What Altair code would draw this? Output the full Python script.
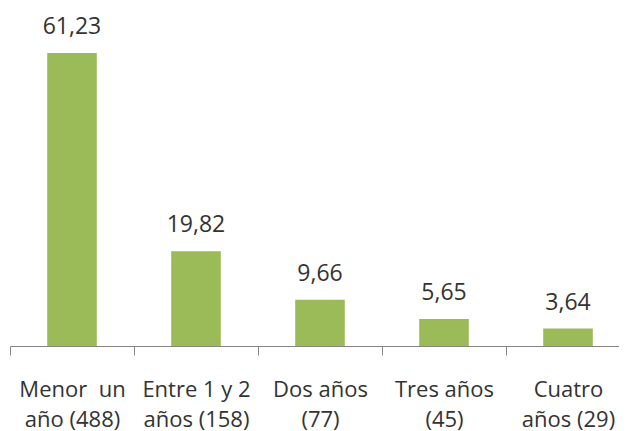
import altair as alt
import pandas as pd

categories = ["Menor\u00a0\u00a0un|año (488)", "Entre 1 y 2|años (158)", "Dos años|(77)", "Tres años|(45)", "Cuatro|años (29)"]
values = [61.23, 19.82, 9.66, 5.65, 3.64]
value_labels = ["61,23", "19,82", "9,66", "5,65", "3,64"]

df = pd.DataFrame({"cat": categories, "val": values, "lab": value_labels})

FONT = "Open Sans"
TXT = "#333333"

x = alt.X("cat:N", sort=categories, title=None,
          scale=alt.Scale(paddingInner=0, paddingOuter=0),
          axis=alt.Axis(labelExpr="split(datum.label, '|')", labelAngle=0,
                        labelFont=FONT, labelFontSize=22, labelColor=TXT,
                        labelLineHeight=30, labelPadding=41, labelBaseline="alphabetic",
                        tickBand="extent", tickSize=9, tickColor="#868686",
                        domainColor="#868686", labelOverlap=False, labelFlush=False))
y = alt.Y("val:Q", title=None, scale=alt.Scale(domain=[0, 70], nice=False), axis=None)

bars = alt.Chart(df).mark_bar(color="#9BBB59", width=alt.RelativeBandSize(0.4)).encode(x=x, y=y)
text = alt.Chart(df).mark_text(dy=-19, baseline="alphabetic", font=FONT, fontSize=23, color=TXT).encode(
    x=alt.X("cat:N", sort=categories), y="val:Q", text="lab:N")

chart = (bars + text).properties(
    width=620, height=335,
    autosize=alt.AutoSizeParams(type="none"),
    padding={"left": 2, "top": 3, "right": -11, "bottom": 85},
).configure(background="white").configure_view(stroke=None)

chart.save("out.html", embed_options={"renderer": "svg", "actions": False})
